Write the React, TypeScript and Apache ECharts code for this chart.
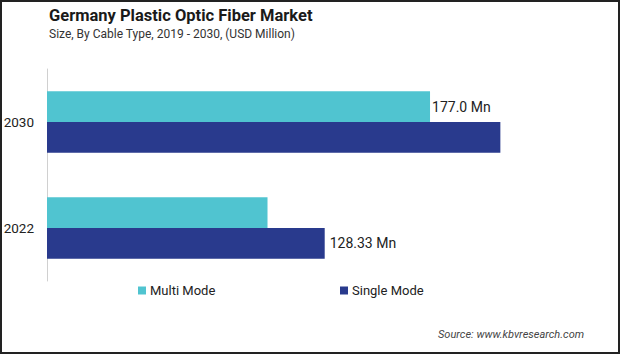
import React, { useEffect, useRef } from "react";
import * as echarts from "echarts";

const categories = ["2030", "2022"];
const multiMode = [177.0, 101.9];
const singleMode = [209.5, 128.33];
const seriesNames = ["Multi Mode", "Single Mode"];
const colors = ["#50C4D0", "#293A8D"];

const labelFont = "Roboto, sans-serif";

export default function App() {
  const ref = useRef<HTMLDivElement>(null);
  useEffect(() => {
    if (!ref.current) return;
    const chart = echarts.init(ref.current, null, { renderer: "svg" });
    const fmt = (v: number) => (Number.isInteger(v) ? v.toFixed(1) : String(v)) + " Mn";
    const labelFor = (idx: number, dist: number) => ({
      show: true,
      position: "right",
      distance: dist,
      fontFamily: labelFont,
      fontSize: 14,
      color: "#222",
      formatter: (p: any) => (p.dataIndex === idx ? fmt(p.value) : ""),
    });
    const legendText = { fontFamily: "Roboto", fontSize: 13, color: "#222", padding: [0, 0, 0, -1] };
    chart.setOption({
      animation: false,
      backgroundColor: "#fff",
      title: [
        {
          text: "Germany Plastic Optic Fiber Market",
          left: 49,
          top: 7,
          padding: 0,
          textStyle: { fontFamily: "Roboto", fontWeight: "bold", fontSize: 16.5, color: "#1a1a1a" },
        },
        {
          text: "Size, By Cable Type, 2019 - 2030, (USD Million)",
          left: 49,
          top: 28,
          padding: 0,
          textStyle: { fontFamily: "Roboto", fontWeight: "normal", fontSize: 12, color: "#333" },
        },
        {
          text: "Source: www.kbvresearch.com",
          left: 438,
          top: 329,
          padding: 0,
          textStyle: { fontFamily: "Roboto", fontStyle: "italic", fontWeight: "normal", fontSize: 11, color: "#444" },
        },
      ],
      legend: [
        {
          data: [seriesNames[0]],
          left: 138,
          top: 284,
          padding: 0,
          icon: "rect",
          itemWidth: 8,
          itemHeight: 8,
          itemGap: 5,
          textStyle: legendText,
        },
        {
          data: [seriesNames[1]],
          left: 340,
          top: 284,
          padding: 0,
          icon: "rect",
          itemWidth: 8,
          itemHeight: 8,
          itemGap: 5,
          textStyle: legendText,
        },
      ],
      grid: { left: 47, right: 32, top: 69, height: 212, outerBoundsMode: "none", containLabel: false },
      xAxis: {
        type: "value",
        min: 0,
        max: 250,
        show: false,
      },
      yAxis: {
        type: "category",
        data: categories,
        inverse: true,
        axisLine: { show: true, lineStyle: { color: "#d0d0d0", width: 1 } },
        axisTick: { show: false },
        axisLabel: {
          margin: 13,
          fontFamily: labelFont,
          fontSize: 13.5,
          color: "#222",
        },
      },
      series: [
        {
          name: seriesNames[0],
          type: "bar",
          data: multiMode,
          itemStyle: { color: colors[0] },
          barGap: "0%",
          barCategoryGap: "42%",
          label: labelFor(0, 2),
        },
        {
          name: seriesNames[1],
          type: "bar",
          data: singleMode,
          itemStyle: { color: colors[1] },
          barGap: "0%",
          barCategoryGap: "42%",
          label: labelFor(1, 5),
        },
      ],
      graphic: [
        {
          type: "rect",
          shape: { x: 1, y: 1, width: 618, height: 352 },
          style: { fill: "none", stroke: "#222", lineWidth: 2 },
          silent: true,
        },
      ],
    });
    return () => chart.dispose();
  }, []);
  return (
    <div
      ref={ref}
      style={{ position: "fixed", left: 0, top: 0, width: 620, height: 354 }}
    />
  );
}
